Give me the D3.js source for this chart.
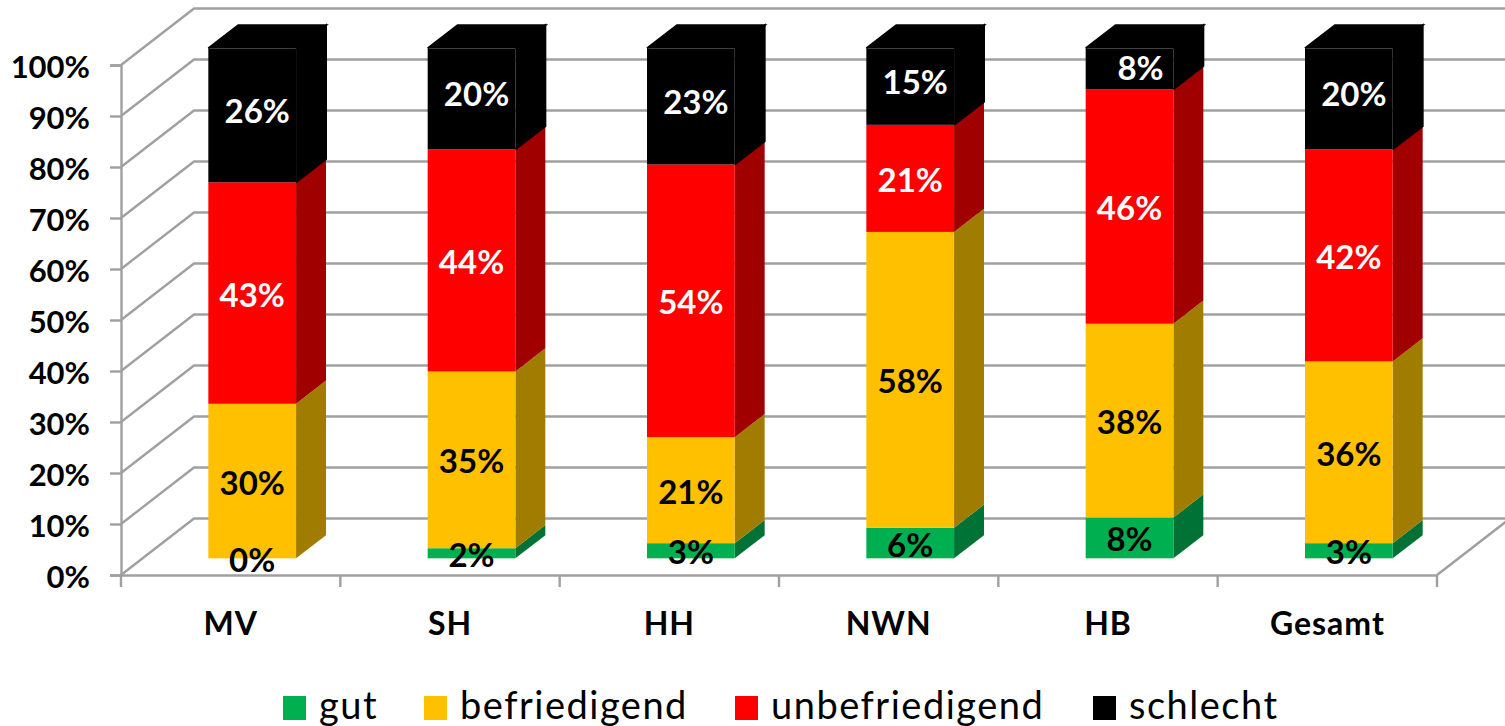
<!DOCTYPE html>
<html>
<head>
<meta charset="utf-8">
<script src="https://cdn.jsdelivr.net/npm/d3@7"></script>
<style>
  html, body { margin: 0; padding: 0; background: #fff; overflow: hidden; }
  text { font-family: Lato, "Open Sans", sans-serif; }
</style>
</head>
<body>
<div id="chart"></div>
<script>
const categories = ["MV", "SH", "HH", "NWN", "HB", "Gesamt"];
const seriesNames = ["gut", "befriedigend", "unbefriedigend", "schlecht"];
const gut = [0, 2, 3, 6, 8, 3];
const befriedigend = [30, 35, 21, 58, 38, 36];
const unbefriedigend = [43, 44, 54, 21, 46, 42];
const schlecht = [26, 20, 23, 15, 8, 20];
const yTicks = [0, 0.1, 0.2, 0.3, 0.4, 0.5, 0.6, 0.7, 0.8, 0.9, 1];

const FRAME_WIDTH = 1505;
const FRAME_HEIGHT = 726;
const PLOT = {left: 121, right: 1437, top: 65, bottom: 575};

// oblique offset of the back wall, bars sit between nearZ and farZ of it
const DEPTH = {x: 73, y: -56.5};
const nearZ = 0.295;
const farZ = 0.705;

const GRID = "#a0a0a0";
const FRONT = ["#00b050", "#ffc000", "#ff0000", "#000000"];
const SIDE = ["#007235", "#a07c00", "#a00000", "#000000"];
const LABEL = ["#000", "#000", "#fff", "#fff"];

const values = [gut, befriedigend, unbefriedigend, schlecht];
const rows = categories.map((c, i) => {
  const row = {cat: c};
  seriesNames.forEach((s, j) => { row[s] = values[j][i]; });
  return row;
});

const stacked = d3.stack()
  .keys(seriesNames)
  .offset(d3.stackOffsetExpand)(rows);

const X_SCALE = d3.scaleBand()
  .domain(categories)
  .range([PLOT.left, PLOT.right])
  .paddingInner(0.6)
  .paddingOuter(0.3);

const Y_SCALE = d3.scaleLinear()
  .domain([0, 1])
  .range([PLOT.bottom, PLOT.top]);

const svg = d3.select("#chart")
  .append("svg")
    .attr("width", FRAME_WIDTH)
    .attr("height", FRAME_HEIGHT)
    .style("display", "block");

// walls and floor
const walls = svg.append("g")
  .attr("fill", "none")
  .attr("stroke", GRID)
  .attr("stroke-width", 2.4);

walls.selectAll("polyline")
  .data(yTicks)
  .enter()
  .append("polyline")
    .attr("points", (d) => {
      const y = Y_SCALE(d);
      return [[PLOT.left, y], [PLOT.left + DEPTH.x, y + DEPTH.y], [FRAME_WIDTH + 5, y + DEPTH.y]].join(" ");
    });

walls.append("line")
  .attr("x1", PLOT.right)
  .attr("y1", PLOT.bottom)
  .attr("x2", PLOT.right + DEPTH.x)
  .attr("y2", PLOT.bottom + DEPTH.y);

// y axis
const yAxis = svg.append("g")
  .attr("transform", "translate(" + PLOT.left + ",0)")
  .call(d3.axisLeft(Y_SCALE).tickValues(yTicks).tickFormat(d3.format(".0%")).tickSize(11).tickPadding(20));
yAxis.selectAll(".domain, line").attr("stroke", GRID).attr("stroke-width", 2.4);
yAxis.selectAll("text")
  .attr("font-size", "31px")
  .attr("font-weight", 700)
  .attr("fill", "#000")
  .attr("transform", "translate(0,3)");

// x axis, labels from the band scale and ticks on the band edges
const xAxis = svg.append("g")
  .attr("transform", "translate(0," + PLOT.bottom + ")")
  .call(d3.axisBottom(X_SCALE).tickSize(0).tickPadding(37));
xAxis.select(".domain").attr("stroke", GRID).attr("stroke-width", 2.4);
xAxis.selectAll("text")
  .attr("font-size", "32px")
  .attr("font-weight", 700)
  .attr("letter-spacing", "1px")
  .attr("fill", "#000");

const edges = categories.map((c) => X_SCALE(c) - X_SCALE.step() * X_SCALE.paddingOuter());
edges.push(PLOT.right);
xAxis.selectAll(".edge")
  .data(edges)
  .enter()
  .append("line")
    .attr("class", "edge")
    .attr("x1", (d) => d)
    .attr("x2", (d) => d)
    .attr("y1", 0)
    .attr("y2", 12)
    .attr("stroke", GRID)
    .attr("stroke-width", 2.4);

// bars
function sidePath(cat, v0, v1) {
  const x = X_SCALE(cat) + X_SCALE.bandwidth() + DEPTH.x * nearZ;
  const dx = DEPTH.x * (farZ - nearZ);
  const dy = DEPTH.y * (farZ - nearZ);
  const y0 = Y_SCALE(v0) + DEPTH.y * nearZ;
  const y1 = Y_SCALE(v1) + DEPTH.y * nearZ;
  return d3.line()([[x, y0], [x + dx, y0 + dy], [x + dx, y1 + dy], [x, y1]]);
}

function topPath(cat) {
  const x = X_SCALE(cat) + DEPTH.x * nearZ;
  const w = X_SCALE.bandwidth();
  const dx = DEPTH.x * (farZ - nearZ);
  const dy = DEPTH.y * (farZ - nearZ);
  const y = Y_SCALE(1) + DEPTH.y * nearZ;
  return d3.line()([[x, y], [x + dx, y + dy], [x + w + dx, y + dy], [x + w, y]]);
}

const layers = svg.selectAll(".layer")
  .data(stacked)
  .enter()
  .append("g")
    .attr("class", "layer");

// black faces get a stroke of their own colour so no seam shows between them
layers.selectAll(".side")
  .data((s) => s.map((d) => ({cat: d.data.cat, v0: d[0], v1: d[1], i: s.index})))
  .enter()
  .append("path")
    .attr("class", "side")
    .attr("d", (d) => sidePath(d.cat, d.v0, d.v1))
    .attr("fill", (d) => SIDE[d.i])
    .attr("stroke", (d) => d.i == 3 ? SIDE[3] : "none")
    .attr("stroke-width", 2);

layers.selectAll(".front")
  .data((s) => s.map((d) => ({cat: d.data.cat, v0: d[0], v1: d[1], i: s.index})))
  .enter()
  .append("rect")
    .attr("class", "front")
    .attr("x", (d) => X_SCALE(d.cat) + DEPTH.x * nearZ)
    .attr("y", (d) => Y_SCALE(d.v1) + DEPTH.y * nearZ)
    .attr("width", X_SCALE.bandwidth())
    .attr("height", (d) => Y_SCALE(d.v0) - Y_SCALE(d.v1))
    .attr("fill", (d) => FRONT[d.i]);

svg.selectAll(".cap")
  .data(categories)
  .enter()
  .append("path")
    .attr("class", "cap")
    .attr("d", (d) => topPath(d))
    .attr("fill", FRONT[3])
    .attr("stroke", FRONT[3])
    .attr("stroke-width", 2);

// value labels on top of all bars, the top series is pushed towards the bar's middle
const labels = stacked.flatMap((s) => s.map((d) => ({cat: d.data.cat, v0: d[0], v1: d[1], i: s.index, v: d.data[s.key]})));

svg.selectAll(".val")
  .data(labels)
  .enter()
  .append("text")
    .attr("class", "val")
    .attr("x", (d) => X_SCALE(d.cat) + DEPTH.x * nearZ + X_SCALE.bandwidth() / 2 + (d.i == 3 ? (d.v < 10 ? 11 : 5) : 0))
    .attr("y", (d) => (Y_SCALE(d.v0) + Y_SCALE(d.v1)) / 2 + DEPTH.y * nearZ + (d.i == 3 ? (d.v < 10 ? 0 : -4) : 2))
    .attr("dy", "0.35em")
    .attr("text-anchor", "middle")
    .attr("font-size", "33px")
    .attr("font-weight", 700)
    .attr("fill", (d) => LABEL[d.i])
    .text((d) => d.v + "%");

// legend
const legendStart = {gut: 283, befriedigend: 424, unbefriedigend: 735, schlecht: 1093};

const legend = svg.selectAll(".legend")
  .data(seriesNames)
  .enter()
  .append("g")
    .attr("class", "legend")
    .attr("transform", (d) => "translate(" + legendStart[d] + ",696)");

legend.append("rect")
  .attr("width", 23)
  .attr("height", 24)
  .attr("fill", (d, i) => FRONT[i]);

legend.append("text")
  .attr("x", 36)
  .attr("y", 23)
  .attr("font-size", "38px")
  .attr("letter-spacing", "1.5px")
  .attr("fill", "#000")
  .text((d) => d);
</script>
</body>
</html>
